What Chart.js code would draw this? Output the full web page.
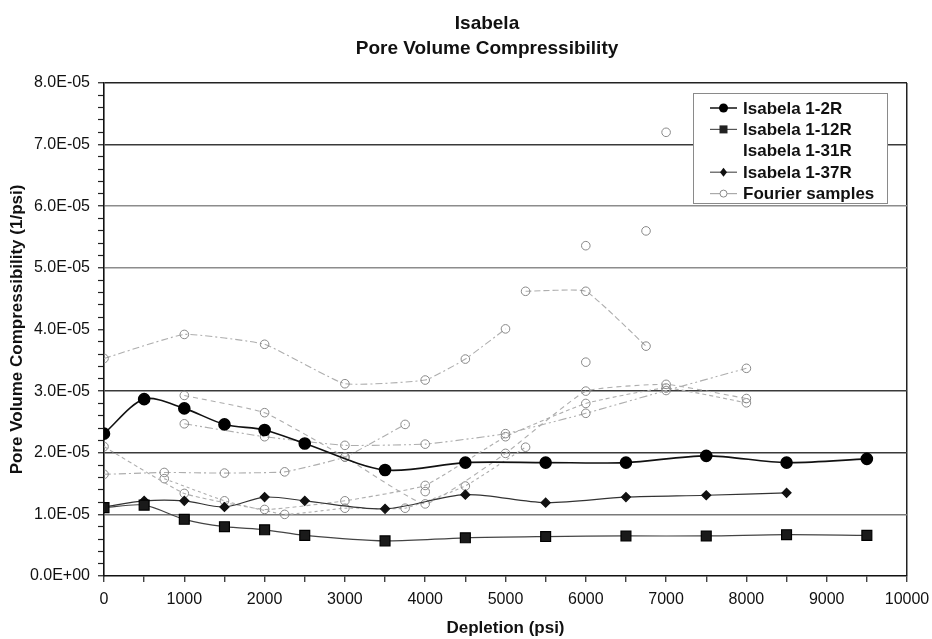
<!DOCTYPE html>
<html><head><meta charset="utf-8">
<script src="https://cdn.jsdelivr.net/npm/chart.js@4.4.1/dist/chart.umd.min.js"></script>
<style>html,body{margin:0;padding:0;background:#fff;}#wrap{width:932px;height:639px;}</style>
</head><body><div id="wrap"><canvas id="c" width="932" height="639"></canvas></div>
<script>
const FONT = "'Liberation Sans', Arial, Helvetica, sans-serif";
const titleLines = ['Isabela', 'Pore Volume Compressibility'];
const xTitle = 'Depletion (psi)';
const yTitle = 'Pore Volume Compressibility (1/psi)';
const seriesNames = ['Isabela 1-2R', 'Isabela 1-12R', 'Isabela 1-31R', 'Isabela 1-37R', 'Fourier samples'];

// Isabela core data (depletion psi, compressibility 1/psi)
const isa2R_x  = [0, 500, 1000, 1500, 2000, 2500, 3500, 4500, 5500, 6500, 7500, 8500, 9500];
const isa2R_y  = [2.31e-5, 2.87e-5, 2.72e-5, 2.46e-5, 2.37e-5, 2.15e-5, 1.72e-5, 1.84e-5, 1.84e-5, 1.84e-5, 1.95e-5, 1.84e-5, 1.90e-5];
const isa12R_x = [0, 500, 1000, 1500, 2000, 2500, 3500, 4500, 5500, 6500, 7500, 8500, 9500];
const isa12R_y = [1.11e-5, 1.15e-5, 0.92e-5, 0.80e-5, 0.75e-5, 0.66e-5, 0.57e-5, 0.62e-5, 0.64e-5, 0.65e-5, 0.65e-5, 0.67e-5, 0.66e-5];
const isa31R_x = [];
const isa31R_y = [];
const isa37R_x = [0, 500, 1000, 1500, 2000, 2500, 3500, 4500, 5500, 6500, 7500, 8500];
const isa37R_y = [1.12e-5, 1.22e-5, 1.22e-5, 1.12e-5, 1.28e-5, 1.22e-5, 1.09e-5, 1.32e-5, 1.19e-5, 1.28e-5, 1.31e-5, 1.35e-5];

// Fourier sample curves
const fA_x  = [0, 1000, 2000, 3000, 4000, 4500, 5000];
const fA_y  = [3.53e-5, 3.92e-5, 3.76e-5, 3.12e-5, 3.18e-5, 3.52e-5, 4.01e-5];
const fA2_x = [5250, 6000, 6750];
const fA2_y = [4.62e-5, 4.62e-5, 3.73e-5];
const fB_x  = [1000, 2000, 3000, 4000, 5000, 6000, 7000, 8000];
const fB_y  = [2.93e-5, 2.65e-5, 1.93e-5, 1.17e-5, 1.99e-5, 3.00e-5, 3.11e-5, 2.88e-5];
const fC_x  = [1000, 2000, 3000, 4000, 5000, 6000, 7000, 8000];
const fC_y  = [2.47e-5, 2.26e-5, 2.12e-5, 2.14e-5, 2.31e-5, 2.64e-5, 3.01e-5, 3.37e-5];
const fE_x  = [0, 1000, 2000, 3000, 4000, 5000, 6000, 7000, 8000];
const fE_y  = [2.10e-5, 1.34e-5, 1.08e-5, 1.22e-5, 1.47e-5, 2.26e-5, 2.80e-5, 3.05e-5, 2.81e-5];
const fD_x  = [0, 750, 1500, 2250, 3000, 3750];
const fD_y  = [1.65e-5, 1.68e-5, 1.67e-5, 1.69e-5, 1.93e-5, 2.46e-5];
const fG_x  = [750, 1500, 2250, 3000, 3750, 4500, 5250];
const fG_y  = [1.58e-5, 1.22e-5, 1.00e-5, 1.10e-5, 1.10e-5, 1.46e-5, 2.09e-5];
const fPts_x = [4000, 6000, 6000, 6750, 7000];
const fPts_y = [1.37e-5, 3.47e-5, 5.36e-5, 5.60e-5, 7.20e-5];

// tick layout
const yMin = 0, yMax = 8e-5, yMinorStep = 2e-6;
const xMin = 0, xMax = 10000, xMinorStep = 500;

function pts(xs, ys) { return xs.map((x, i) => ({x: x, y: ys[i]})); }

const fourierCurves = [
  {xs: fA_x, ys: fA_y, dash: [7, 3, 2, 3]},
  {xs: fA2_x, ys: fA2_y, dash: [6, 3]},
  {xs: fB_x, ys: fB_y, dash: [5, 4]},
  {xs: fC_x, ys: fC_y, dash: [8, 3, 2, 3, 2, 3]},
  {xs: fE_x, ys: fE_y, dash: [4, 3]},
  {xs: fD_x, ys: fD_y, dash: [7, 3, 2, 3]},
  {xs: fG_x, ys: fG_y, dash: [3, 3]}
];

const datasets = [
  {label: seriesNames[0], data: pts(isa2R_x, isa2R_y), showLine: true, tension: 0.3,
   borderColor: '#111', borderWidth: 1.6, pointStyle: 'circle', pointRadius: 5.5,
   pointBackgroundColor: '#000', pointBorderColor: '#000'},
  {label: seriesNames[1], data: pts(isa12R_x, isa12R_y), showLine: true, tension: 0.3,
   borderColor: '#444', borderWidth: 1.2, pointStyle: 'rect', pointRadius: 7,
   pointBackgroundColor: '#1a1a1a', pointBorderColor: '#000'},
  {label: seriesNames[2], data: pts(isa31R_x, isa31R_y), showLine: true,
   borderColor: 'rgba(0,0,0,0)', pointRadius: 0},
  {label: seriesNames[3], data: pts(isa37R_x, isa37R_y), showLine: true, tension: 0.3,
   borderColor: '#333', borderWidth: 1.2, pointStyle: 'rectRot', pointRadius: 4.5,
   pointBackgroundColor: '#111', pointBorderColor: '#111'}
];
fourierCurves.forEach(c => datasets.push({
  label: seriesNames[4], data: pts(c.xs, c.ys), showLine: true, tension: 0.12,
  borderColor: '#aeaeae', borderWidth: 1.1, borderDash: c.dash,
  pointStyle: 'circle', pointRadius: 4.3, pointBorderWidth: 1,
  pointBackgroundColor: 'rgba(255,255,255,0)', pointBorderColor: '#888'
}));
datasets.push({
  label: seriesNames[4], data: pts(fPts_x, fPts_y), showLine: false,
  pointStyle: 'circle', pointRadius: 4.3, pointBorderWidth: 1,
  pointBackgroundColor: 'rgba(255,255,255,0)', pointBorderColor: '#888'
});

function sci(v) {
  const s = Number(v).toExponential(1);
  const parts = s.split('e');
  let e = parseInt(parts[1], 10);
  const sign = e < 0 ? '-' : '+';
  e = Math.abs(e);
  return parts[0] + 'E' + sign + (e < 10 ? '0' + e : '' + e);
}

const majorGridColors = ['rgba(0,0,0,0)', '#7a7a7a', '#3a3a3a', '#3a3a3a', 'rgba(0,0,0,0)', '#8c8c8c', '#8c8c8c', '#3a3a3a', '#222'];

const titlePlugin = {
  id: 'mainTitle',
  afterDraw(chart) {
    const ctx = chart.ctx;
    ctx.save();
    ctx.fillStyle = '#111';
    ctx.font = 'bold 19px ' + FONT;
    ctx.textAlign = 'center';
    ctx.textBaseline = 'alphabetic';
    ctx.fillText(titleLines[0], 487, 29);
    ctx.fillText(titleLines[1], 487, 54);
    ctx.restore();
  }
};

const legendPlugin = {
  id: 'boxLegend',
  afterDraw(chart) {
    const ctx = chart.ctx;
    const bx = 693, by = 93, bw = 194, bh = 110;
    ctx.save();
    ctx.fillStyle = '#fff';
    ctx.fillRect(bx, by, bw, bh);
    ctx.strokeStyle = '#8a8a8a';
    ctx.lineWidth = 1;
    ctx.strokeRect(bx + 0.5, by + 0.5, bw, bh);
    const rowY0 = 108, rowStep = 21.4;
    const x1 = 710, x2 = 737, xm = 723.5;
    seriesNames.forEach((name, i) => {
      const y = rowY0 + i * rowStep;
      ctx.setLineDash([]);
      if (i !== 2) {
        ctx.strokeStyle = i === 4 ? '#aaa' : (i === 0 ? '#111' : '#555');
        ctx.lineWidth = i === 0 ? 1.5 : 1.2;
        ctx.beginPath(); ctx.moveTo(x1, y); ctx.lineTo(x2, y); ctx.stroke();
      }
      if (i === 0) {
        ctx.fillStyle = '#000'; ctx.beginPath(); ctx.arc(xm, y, 4.5, 0, Math.PI * 2); ctx.fill();
      } else if (i === 1) {
        ctx.fillStyle = '#222'; ctx.fillRect(xm - 4, y - 4, 8, 8);
      } else if (i === 3) {
        ctx.fillStyle = '#111'; ctx.beginPath();
        ctx.moveTo(xm, y - 4.5); ctx.lineTo(xm + 3.5, y); ctx.lineTo(xm, y + 4.5); ctx.lineTo(xm - 3.5, y); ctx.closePath(); ctx.fill();
      } else if (i === 4) {
        ctx.fillStyle = '#fff'; ctx.strokeStyle = '#8a8a8a'; ctx.lineWidth = 1;
        ctx.beginPath(); ctx.arc(xm, y, 3.5, 0, Math.PI * 2); ctx.fill(); ctx.stroke();
      }
      ctx.fillStyle = '#111';
      ctx.font = 'bold 17px ' + FONT;
      ctx.textAlign = 'left';
      ctx.textBaseline = 'middle';
      ctx.fillText(name, 743, y + 1);
    });
    ctx.restore();
  }
};

new Chart(document.getElementById('c'), {
  type: 'scatter',
  data: {datasets: datasets},
  plugins: [titlePlugin, legendPlugin],
  options: {
    responsive: false,
    animation: false,
    devicePixelRatio: 1,
    layout: {padding: {top: 83, right: 25, bottom: 0, left: 0}},
    plugins: {legend: {display: false}, tooltip: {enabled: false}, title: {display: false}},
    scales: {
      x: {
        type: 'linear', min: xMin, max: xMax,
        afterFit(s) { s.height = 63; s.paddingLeft = 0; s.paddingRight = 0; },
        ticks: {
          stepSize: xMinorStep, autoSkip: false, maxRotation: 0, padding: 8,
          color: '#111', font: {family: FONT, size: 16},
          callback: v => (v % 1000 === 0 ? String(v) : '')
        },
        grid: {
          drawOnChartArea: true, drawTicks: true, tickLength: 6,
          color: c => (c.tick && c.tick.value === xMax ? '#222' : 'rgba(0,0,0,0)'),
          lineWidth: 1.5, tickColor: '#222', tickWidth: 1.2
        },
        border: {color: '#111', width: 1.6},
        title: {display: true, text: xTitle, color: '#111', font: {family: FONT, size: 17, weight: 'bold'}, padding: {top: 4, bottom: 0}}
      },
      y: {
        type: 'linear', min: yMin, max: yMax,
        afterFit(s) { s.width = 104; s.paddingTop = 0; s.paddingBottom = 0; },
        ticks: {
          stepSize: yMinorStep, autoSkip: false, padding: 8,
          color: '#111', font: {family: FONT, size: 16},
          callback: (v, i) => (i % 5 === 0 ? sci(v) : '')
        },
        grid: {
          drawOnChartArea: true, drawTicks: true, tickLength: 6,
          color: c => (c.index % 5 === 0 ? majorGridColors[c.index / 5] : 'rgba(0,0,0,0)'),
          lineWidth: c => (c.index % 5 === 0 ? 1.5 : 1),
          tickColor: '#222', tickWidth: 1.2
        },
        border: {color: '#111', width: 1.6},
        title: {display: true, text: yTitle, color: '#111', font: {family: FONT, size: 17, weight: 'bold'}, padding: {top: 7, bottom: 0}}
      }
    }
  }
});
</script>
</body></html>
